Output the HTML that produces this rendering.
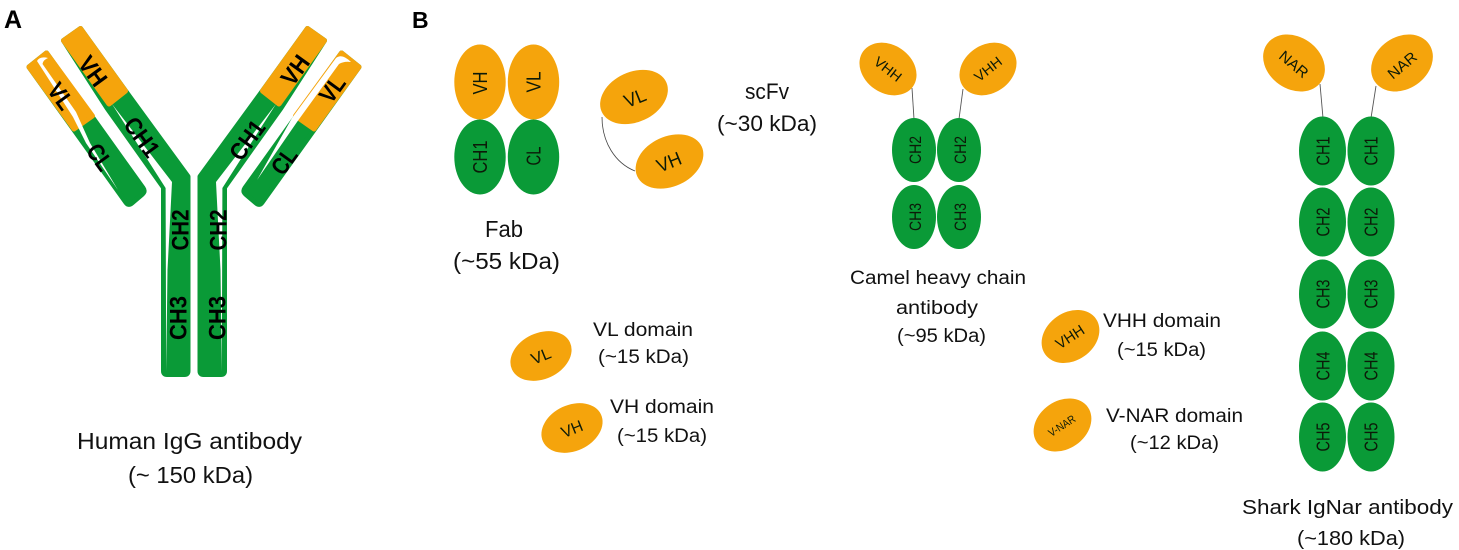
<!DOCTYPE html>
<html><head><meta charset="utf-8"><style>
html,body{margin:0;padding:0;background:#fff;width:1459px;height:550px;overflow:hidden}
svg{display:block;font-family:"Liberation Sans",sans-serif;filter:blur(.35px)}
.o{fill:#F5A40C}.g{fill:#0A9A37}
.l{fill:#111;font-size:23px;text-anchor:middle}
.n{fill:#0c1a08;text-anchor:middle}
.b{fill:#000;font-weight:bold;font-size:24px;text-anchor:middle}
.s{stroke-linejoin:round}
</style></head><body>
<svg width="1459" height="550" viewBox="0 0 1459 550" xmlns="http://www.w3.org/2000/svg">
<rect width="1459" height="550" fill="#fff"/>
<text x="4" y="28" style="font-size:25px;font-weight:bold" fill="#000">A</text>
<text x="412" y="28" style="font-size:23px;font-weight:bold" fill="#000">B</text>

<!-- Panel A -->
<defs>
<g id="half">
  <path class="g s" stroke="#0A9A37" stroke-width="5" d="M63.5,40.5 L80.500,28.500 L127,93 L188,176.500 L188,371 Q188,374.500 184.500,374.500 L167,374.500 Q163.500,374.500 163.500,371 L163.500,187.500 L107,108 Z"/>
  <polygon class="o s" stroke="#F5A40C" stroke-width="5" points="63.5,40.5 80.5,28.5 125.5,91 109,104"/>
  <path class="g s" stroke="#0A9A37" stroke-width="5" d="M29,67 L46.500,53 L143,188 Q145.500,191.500 142,194.500 L132,203 Q128.500,206 126,202.500 Z"/>
  <polygon class="o s" stroke="#F5A40C" stroke-width="5" points="29,67 46.5,53 92.5,116 74,129"/>
  <polygon fill="#fff" points="112,104 172,182 167.500,270 166.200,372 165.600,188"/>
</g>
</defs>
<use href="#half"/>
<use href="#half" transform="translate(388,0) scale(-1,1)"/>
<path fill="#fff" d="M37,61 Q40,56 48,58 Q43,60 42.500,64 L76,112 L90,143 L118,190 L86,143 L73,117 Z"/>
<path fill="#fff" d="M351,62 Q342,53 336,58 L292,118 L257,180 L297,122 L339,64 Q344,61 351,62 Z"/>

<g class="b">
<text transform="translate(93,71) rotate(54)" y="8.500" textLength="31" lengthAdjust="spacingAndGlyphs" class="b">VH</text>
<text transform="translate(61,96) rotate(54)" y="8.500" textLength="27" lengthAdjust="spacingAndGlyphs" class="b">VL</text>
<text transform="translate(142,137) rotate(54)" y="8.500" textLength="43" lengthAdjust="spacingAndGlyphs" class="b">CH1</text>
<text transform="translate(100,157) rotate(54)" y="8.500" textLength="27" lengthAdjust="spacingAndGlyphs" class="b">CL</text>
<text transform="translate(180,230) rotate(-90)" y="8.500" textLength="41" lengthAdjust="spacingAndGlyphs" class="b">CH2</text>
<text transform="translate(178,318) rotate(-90)" y="8.500" textLength="44" lengthAdjust="spacingAndGlyphs" class="b">CH3</text>
<text transform="translate(218,230) rotate(-90)" y="8.500" textLength="41" lengthAdjust="spacingAndGlyphs" class="b">CH2</text>
<text transform="translate(217,318) rotate(-90)" y="8.500" textLength="44" lengthAdjust="spacingAndGlyphs" class="b">CH3</text>
<text transform="translate(295,70) rotate(-54)" y="8.500" textLength="31" lengthAdjust="spacingAndGlyphs" class="b">VH</text>
<text transform="translate(332,89) rotate(-54)" y="8.500" textLength="27" lengthAdjust="spacingAndGlyphs" class="b">VL</text>
<text transform="translate(247,140) rotate(-54)" y="8.500" textLength="43" lengthAdjust="spacingAndGlyphs" class="b">CH1</text>
<text transform="translate(284,161) rotate(-54)" y="8.500" textLength="27" lengthAdjust="spacingAndGlyphs" class="b">CL</text>
</g>
<text class="l" x="189.500" y="449" textLength="225" lengthAdjust="spacingAndGlyphs">Human IgG antibody</text>
<text class="l" x="190.500" y="483" textLength="125" lengthAdjust="spacingAndGlyphs">(~ 150 kDa)</text>

<!-- Fab -->
<ellipse class="o" cx="480" cy="82" rx="25.700" ry="37.500"/>
<ellipse class="o" cx="533.500" cy="82" rx="25.700" ry="37.500"/>
<ellipse class="g" cx="480" cy="157" rx="25.700" ry="37.500"/>
<ellipse class="g" cx="533.500" cy="157" rx="25.700" ry="37.500"/>
<g style="font-size:20px">
<text class="n" transform="translate(480,83) rotate(-90)" y="7" textLength="23" lengthAdjust="spacingAndGlyphs">VH</text>
<text class="n" transform="translate(533.500,82) rotate(-90)" y="7" textLength="21" lengthAdjust="spacingAndGlyphs">VL</text>
<text class="n" transform="translate(480,157) rotate(-90)" y="7" textLength="33" lengthAdjust="spacingAndGlyphs">CH1</text>
<text class="n" transform="translate(533.500,156) rotate(-90)" y="7" textLength="19" lengthAdjust="spacingAndGlyphs">CL</text>
</g>
<text class="l" x="504" y="237" textLength="38" lengthAdjust="spacingAndGlyphs">Fab</text>
<text class="l" x="506.500" y="269" textLength="107" lengthAdjust="spacingAndGlyphs">(~55 kDa)</text>

<!-- scFv -->
<path d="M602,117 C602,142 615,163 635,171" fill="none" stroke="#444" stroke-width=".8"/>
<ellipse class="o" cx="634" cy="97" rx="35.500" ry="25" transform="rotate(-25 634 97)"/>
<ellipse class="o" cx="669.500" cy="161.500" rx="35.500" ry="25" transform="rotate(-25 669.500 161.500)"/>
<g style="font-size:19px">
<text class="n" transform="translate(635,98) rotate(-22)" y="6.500" textLength="22" lengthAdjust="spacingAndGlyphs">VL</text>
<text class="n" transform="translate(669,162) rotate(-22)" y="6.500" textLength="25" lengthAdjust="spacingAndGlyphs">VH</text>
</g>
<text class="l" x="767" y="99" style="font-size:22px" textLength="44" lengthAdjust="spacingAndGlyphs">scFv</text>
<text class="l" x="767" y="131" style="font-size:22px" textLength="100" lengthAdjust="spacingAndGlyphs">(~30 kDa)</text>

<!-- VL / VH domain -->
<ellipse class="o" cx="541" cy="356" rx="32" ry="23" transform="rotate(-25 541 356)"/>
<ellipse class="o" cx="572" cy="428" rx="32" ry="23" transform="rotate(-25 572 428)"/>
<text class="n" transform="translate(541,356) rotate(-22)" y="5.500" style="font-size:16px" textLength="20" lengthAdjust="spacingAndGlyphs">VL</text>
<text class="n" transform="translate(572,429) rotate(-22)" y="5.500" style="font-size:16px" textLength="22" lengthAdjust="spacingAndGlyphs">VH</text>
<text class="l" style="font-size:19px" x="643" y="336" textLength="100" lengthAdjust="spacingAndGlyphs">VL domain</text>
<text class="l" style="font-size:19px" x="643.500" y="363" textLength="91" lengthAdjust="spacingAndGlyphs">(~15 kDa)</text>
<text class="l" style="font-size:19px" x="662" y="413" textLength="104" lengthAdjust="spacingAndGlyphs">VH domain</text>
<text class="l" style="font-size:19px" x="662" y="442" textLength="90" lengthAdjust="spacingAndGlyphs">(~15 kDa)</text>

<!-- Camel -->
<line x1="912" y1="88" x2="914" y2="119" stroke="#555" stroke-width=".9"/>
<line x1="963" y1="89" x2="959" y2="119" stroke="#555" stroke-width=".9"/>
<ellipse class="o" cx="888" cy="69" rx="30.500" ry="24" transform="rotate(35 888 69)"/>
<ellipse class="o" cx="988" cy="69" rx="30.500" ry="24" transform="rotate(-35 988 69)"/>
<ellipse class="g" cx="914" cy="150" rx="22" ry="32"/>
<ellipse class="g" cx="959" cy="150" rx="22" ry="32"/>
<ellipse class="g" cx="914" cy="217" rx="22" ry="32"/>
<ellipse class="g" cx="959" cy="217" rx="22" ry="32"/>
<g style="font-size:17px">
<text class="n" transform="translate(888,69) rotate(38)" y="5" style="font-size:14px" textLength="31" lengthAdjust="spacingAndGlyphs">VHH</text>
<text class="n" transform="translate(988,69) rotate(-38)" y="5" style="font-size:14px" textLength="31" lengthAdjust="spacingAndGlyphs">VHH</text>
<text class="n" transform="translate(915,150) rotate(-90)" y="6" textLength="28" lengthAdjust="spacingAndGlyphs">CH2</text>
<text class="n" transform="translate(960,150) rotate(-90)" y="6" textLength="28" lengthAdjust="spacingAndGlyphs">CH2</text>
<text class="n" transform="translate(915,217) rotate(-90)" y="6" textLength="28" lengthAdjust="spacingAndGlyphs">CH3</text>
<text class="n" transform="translate(960,217) rotate(-90)" y="6" textLength="28" lengthAdjust="spacingAndGlyphs">CH3</text>
</g>
<text class="l" style="font-size:19px" x="938" y="284" textLength="176" lengthAdjust="spacingAndGlyphs">Camel heavy chain</text>
<text class="l" style="font-size:19px" x="937" y="314" textLength="82" lengthAdjust="spacingAndGlyphs">antibody</text>
<text class="l" style="font-size:19px" x="941.500" y="342" textLength="89" lengthAdjust="spacingAndGlyphs">(~95 kDa)</text>

<!-- VHH / V-NAR -->
<ellipse class="o" cx="1070.500" cy="336.500" rx="31" ry="24" transform="rotate(-35 1070.500 336.500)"/>
<ellipse class="o" cx="1062.500" cy="425" rx="31" ry="24" transform="rotate(-35 1062.500 425)"/>
<text class="n" transform="translate(1070,337) rotate(-33)" y="5" style="font-size:15px" textLength="31" lengthAdjust="spacingAndGlyphs">VHH</text>
<text class="n" transform="translate(1062,426) rotate(-33)" y="3.500" style="font-size:11px" textLength="30" lengthAdjust="spacingAndGlyphs">V-NAR</text>
<text class="l" style="font-size:19px" x="1162" y="327" textLength="118" lengthAdjust="spacingAndGlyphs">VHH domain</text>
<text class="l" style="font-size:19px" x="1161.500" y="356" textLength="89" lengthAdjust="spacingAndGlyphs">(~15 kDa)</text>
<text class="l" style="font-size:19px" x="1174.500" y="422" textLength="137" lengthAdjust="spacingAndGlyphs">V-NAR domain</text>
<text class="l" style="font-size:19px" x="1174.500" y="449" textLength="89" lengthAdjust="spacingAndGlyphs">(~12 kDa)</text>

<!-- Shark -->
<line x1="1320" y1="84" x2="1323" y2="118" stroke="#555" stroke-width=".9"/>
<line x1="1376" y1="86" x2="1371" y2="118" stroke="#555" stroke-width=".9"/>
<ellipse class="o" cx="1294" cy="63" rx="33" ry="26" transform="rotate(35 1294 63)"/>
<ellipse class="o" cx="1402" cy="63" rx="33" ry="26" transform="rotate(-35 1402 63)"/>
<ellipse class="g" cx="1322.500" cy="151" rx="23.500" ry="34.500"/>
<ellipse class="g" cx="1371" cy="151" rx="23.500" ry="34.500"/>
<ellipse class="g" cx="1322.500" cy="222" rx="23.500" ry="34.500"/>
<ellipse class="g" cx="1371" cy="222" rx="23.500" ry="34.500"/>
<ellipse class="g" cx="1322.500" cy="294" rx="23.500" ry="34.500"/>
<ellipse class="g" cx="1371" cy="294" rx="23.500" ry="34.500"/>
<ellipse class="g" cx="1322.500" cy="366" rx="23.500" ry="34.500"/>
<ellipse class="g" cx="1371" cy="366" rx="23.500" ry="34.500"/>
<ellipse class="g" cx="1322.500" cy="437" rx="23.500" ry="34.500"/>
<ellipse class="g" cx="1371" cy="437" rx="23.500" ry="34.500"/>
<g style="font-size:18px">
<text class="n" transform="translate(1294,64) rotate(40)" y="5.500" style="font-size:15px" textLength="33" lengthAdjust="spacingAndGlyphs">NAR</text>
<text class="n" transform="translate(1402,65) rotate(-40)" y="5.500" style="font-size:15px" textLength="33" lengthAdjust="spacingAndGlyphs">NAR</text>
<text class="n" transform="translate(1323,151) rotate(-90)" y="6.500" textLength="29" lengthAdjust="spacingAndGlyphs">CH1</text>
<text class="n" transform="translate(1371,151) rotate(-90)" y="6.500" textLength="29" lengthAdjust="spacingAndGlyphs">CH1</text>
<text class="n" transform="translate(1323,222) rotate(-90)" y="6.500" textLength="29" lengthAdjust="spacingAndGlyphs">CH2</text>
<text class="n" transform="translate(1371,222) rotate(-90)" y="6.500" textLength="29" lengthAdjust="spacingAndGlyphs">CH2</text>
<text class="n" transform="translate(1323,294) rotate(-90)" y="6.500" textLength="29" lengthAdjust="spacingAndGlyphs">CH3</text>
<text class="n" transform="translate(1371,294) rotate(-90)" y="6.500" textLength="29" lengthAdjust="spacingAndGlyphs">CH3</text>
<text class="n" transform="translate(1323,366) rotate(-90)" y="6.500" textLength="29" lengthAdjust="spacingAndGlyphs">CH4</text>
<text class="n" transform="translate(1371,366) rotate(-90)" y="6.500" textLength="29" lengthAdjust="spacingAndGlyphs">CH4</text>
<text class="n" transform="translate(1323,437) rotate(-90)" y="6.500" textLength="29" lengthAdjust="spacingAndGlyphs">CH5</text>
<text class="n" transform="translate(1371,437) rotate(-90)" y="6.500" textLength="29" lengthAdjust="spacingAndGlyphs">CH5</text>
</g>
<text class="l" style="font-size:20.500px" x="1347.500" y="514" textLength="211" lengthAdjust="spacingAndGlyphs">Shark IgNar antibody</text>
<text class="l" style="font-size:20.500px" x="1351" y="545" textLength="108" lengthAdjust="spacingAndGlyphs">(~180 kDa)</text>
</svg>
</body></html>
